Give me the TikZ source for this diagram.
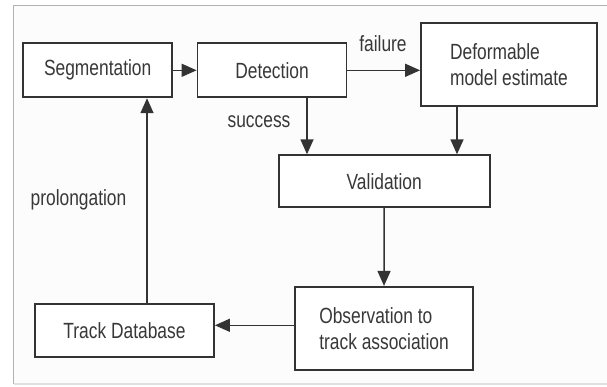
\documentclass[tikz,border=0pt]{standalone}
\usepackage{fontspec}
\setmainfont{Liberation Sans}[FakeStretch=0.79]
\usetikzlibrary{arrows.meta, calc}

\begin{document}
\begin{tikzpicture}[x=1pt, y=-1pt]
    % --- Styles ---
    \tikzstyle{block}=[draw=black!80, line width=1.8pt, fill=white, inner sep=0pt, text=black!78, font=\fontsize{22}{26}\selectfont]
    \tikzstyle{flow}=[draw=black!80, line width=1.5pt, -{Triangle[length=15pt, width=13pt]}]
    \tikzstyle{label_text}=[text=black!78, font=\fontsize{22}{26}\selectfont]

    \useasboundingbox (0,0) rectangle (607,386);

    % --- 0. Frame ---
    \fill[black!1] (13.5,5.5) rectangle (607,384);
    \draw[black!30, line width=1.3pt] (607,5.5) -- (13.5,5.5) -- (13.5,384);
    \draw[black!12, line width=1.3pt] (13.5,384) -- (607,384);

    % --- 1. Blocks ---
    \node[block, minimum width=149pt, minimum height=54pt] (seg) at (97.7,70.3) {Segmentation};
    \node[block, minimum width=149pt, minimum height=54pt] (det) at (272,70.3) {Detection};
    \node[block, minimum width=176pt, minimum height=83pt, align=left] (def) at (509,64.4) {Deformable\\model estimate};
    \node[block, minimum width=211pt, minimum height=52pt] (val) at (384.2,181.2) {Validation};
    \node[block, minimum width=178pt, minimum height=83pt, align=left] (obs) at (384,328.3) {Observation to\\track association};
    \node[block, minimum width=179pt, minimum height=53pt] (trk) at (124.5,330.5) {Track Database};

    % --- 2. Connectors ---
    \draw[flow] (seg.east) -- (det.west);
    \draw[flow] (det.east) -- (det.east -| def.west);
    \draw[flow] ([xshift=35pt]det.south) -- ([xshift=35pt]det.south |- val.north);
    \draw[flow] ([xshift=-52pt]def.south) -- ([xshift=-52pt]def.south |- val.north);
    \draw[flow] (val.south) -- (obs.north);
    \draw[flow] ([yshift=3pt]obs.west) -- ([yshift=3pt]obs.west -| trk.east);
    \draw[flow] ([xshift=22.5pt]trk.north) -- ([xshift=22.5pt]trk.north |- seg.south);

    % --- 3. Labels ---
    \node[label_text] (fail) at (383,44) {failure};
    \node[label_text] (succ) at (259,122) {success};
    \node[label_text] (prol) at (78.5,200) {prolongation};

\end{tikzpicture}
\end{document}
